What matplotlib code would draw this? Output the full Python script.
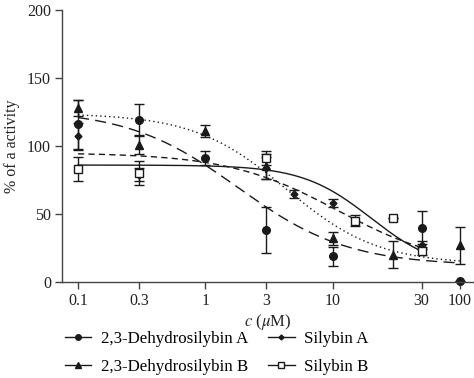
import numpy as np
import matplotlib
matplotlib.use("Agg")
import matplotlib.pyplot as plt
from matplotlib.lines import Line2D

plt.rcParams['font.family'] = ['Liberation Serif', 'DejaVu Serif']
plt.rcParams['mathtext.fontset'] = 'stix'

# ---- data ----
names = ["2,3-Dehydrosilybin A", "2,3-Dehydrosilybin B", "Silybin A", "Silybin B"]

# 2,3-Dehydrosilybin A (filled circles)
da_x = [0.1, 0.3, 1, 3, 10, 50, 100]
da_y = [116, 119, 91, 38, 19, 40, 1]
da_e = [18, 12, 5, 17, 7, 12, 0]

# 2,3-Dehydrosilybin B (filled triangles)
db_x = [0.1, 0.3, 1, 3, 10, 30, 100]
db_y = [128, 101, 111, 85, 32, 20, 27]
db_e = [6, 7, 4.5, 9, 5, 10, 13.5]

# Silybin A (small filled diamonds)
sa_x = [0.1, 0.3, 3, 5, 10, 50]
sa_y = [107, 79, 84, 64.5, 58, 27]
sa_e = [10, 5, 8, 3, 3, 3]

# Silybin B (open squares)
sb_x = [0.1, 0.3, 3, 15, 30, 50]
sb_y = [83, 80, 91, 45, 47, 23]
sb_e = [9, 9, 5, 4, 0, 3]

# fitted dose-response curves: (top, bottom, IC50, hill, x range)
da_fit = (127, 12, 1.8, 1.0, 0.1, 100)
db_fit = (124, 13, 4.3, 1.2, 0.1, 100)
sa_fit = (95, 10, 11, 1.0, 0.1, 50)
sb_fit = (86, 8, 20, 1.6, 0.1, 50)

# axis ticks (the reference labels its tick at 50 as "30")
xtick_pos = [0.1, 0.3, 1, 3, 10, 50, 100]
xtick_lab = ["0.1", "0.3", "1", "3", "10", "30", "100"]
ytick_pos = [0, 50, 100, 150, 200]

col = "#1a1a1a"

fig = plt.figure(figsize=(4.74, 3.78), dpi=100)
ax = fig.add_axes([62/474, 1-282/378, 1-62/474, (282-10)/378])
ax.set_xscale('log')
ax.set_xlim(10**(-1-16/127.33), 10**(2+14/127.33))
ax.set_ylim(0, 200)


def curve(p, ls):
    top, bot, ic, h, x0, x1 = p
    xs = np.logspace(np.log10(x0), np.log10(x1), 200)
    ys = bot + (top - bot) / (1 + (xs / ic) ** h)
    ax.plot(xs, ys, color=col, lw=1.0, linestyle=ls, clip_on=False)

curve(da_fit, (0, (8, 4.5)))
curve(db_fit, (0, (1, 2.2)))
curve(sa_fit, (0, (4.5, 3)))
curve(sb_fit, '-')

ekw = dict(ecolor=col, elinewidth=1.0, capsize=3.5, capthick=1.0, linestyle='none', clip_on=False)
ax.errorbar(da_x, da_y, yerr=da_e, fmt='o', ms=5.5, mfc=col, mec=col, **ekw)
ax.errorbar(db_x, db_y, yerr=db_e, fmt='^', ms=5.5, mfc=col, mec=col, **ekw)
ax.errorbar(sa_x, sa_y, yerr=sa_e, fmt='D', ms=3.5, mfc=col, mec=col, **ekw)
ax.errorbar(sb_x, sb_y, yerr=sb_e, fmt='s', ms=6, mfc='white', mec=col, mew=1.0, **ekw)

for s in ['top', 'right']:
    ax.spines[s].set_visible(False)
for s in ['left', 'bottom']:
    ax.spines[s].set_color('#444444')
    ax.spines[s].set_linewidth(1.0)

ax.set_xticks(xtick_pos)
ax.set_xticklabels(xtick_lab)
ax.xaxis.set_minor_locator(matplotlib.ticker.NullLocator())
ax.set_yticks(ytick_pos)
ax.tick_params(axis='both', direction='out', length=5, width=1.0, color='#444444',
               labelsize=11.5, labelcolor='#222222', pad=3)
ax.set_ylabel("% of a activity", fontsize=11.5, color='#222222', labelpad=5)
ax.set_xlabel(r"$c$ ($\mu$M)", fontsize=12, color='#222222', labelpad=2)

handles = [
    Line2D([], [], color=col, lw=1.0, marker='o', ms=4, mfc=col, mec=col),
    Line2D([], [], color=col, lw=1.0, marker='^', ms=4, mfc=col, mec=col),
    Line2D([], [], color=col, lw=1.0, marker='D', ms=2.5, mfc=col, mec=col),
    Line2D([], [], color=col, lw=1.0, marker='s', ms=4, mfc='white', mec=col),
]
fig.legend(handles, names, ncol=2, loc='upper left', bbox_to_anchor=(65/474, 1-331/378),
           frameon=False, fontsize=12.2, handlelength=1.55, handletextpad=0.55,
           columnspacing=1.2, labelspacing=0.72, borderpad=0, borderaxespad=0)

fig.savefig("out.png", dpi=100)
